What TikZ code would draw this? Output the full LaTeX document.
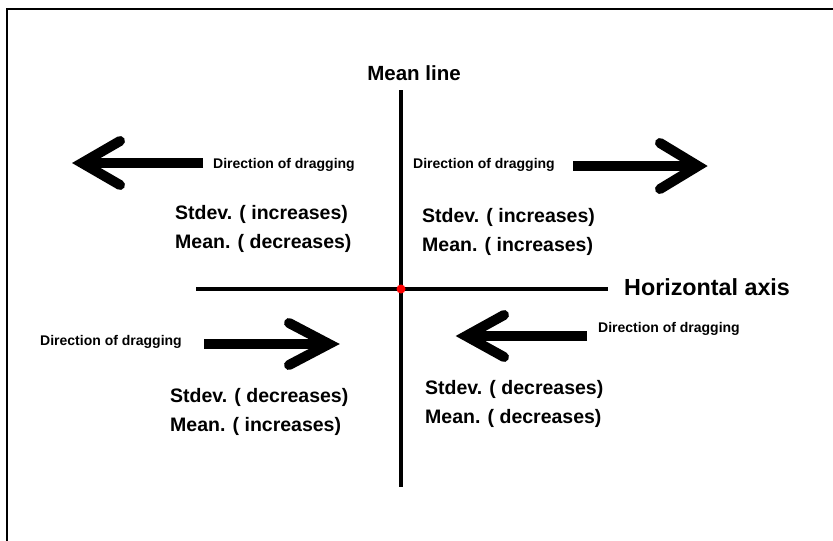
\documentclass[tikz,border=0pt]{standalone}
\usepackage{fontspec}
\setmainfont{Liberation Sans}
\usetikzlibrary{positioning}

\begin{document}
\begin{tikzpicture}[
  x=1pt, y=-1pt,
  frame/.style={line width=2pt, draw=black},
  axis/.style={line width=4pt, draw=black},
  shaft/.style={line width=10pt, draw=black},
  head/.style={line width=10pt, draw=black, line cap=round, line join=miter},
  note/.style={font=\fontsize{14}{16}\selectfont\bfseries, inner sep=0pt, anchor=west},
  stat/.style={font=\fontsize{19.5}{28.5}\selectfont\bfseries, inner sep=0pt,
    anchor=west, align=left},
  title/.style={font=\fontsize{20.5}{24}\selectfont\bfseries, inner sep=0pt}
]
\useasboundingbox (0,0) rectangle (833,541);

% frame
\coordinate (fbl) at (7,541);
\coordinate (ftl) at (7,9);
\coordinate (ftr) at (833,9);
\draw[frame] (fbl) -- (ftl) -- (ftr);

% axes
\coordinate (vtop) at (401,90);
\coordinate (vbot) at (401,487);
\coordinate (hleft) at (196,289);
\coordinate (hright) at (608,289);
\draw[axis] (vtop) -- (vbot);
\draw[axis] (hleft) -- (hright);
\node[circle, fill=red, inner sep=0pt, minimum size=9pt] (origin) at (401,289) {};

\node[title] (meanline) at (414,73) {Mean line};
\node[title, anchor=west, font=\fontsize{23.3}{26}\selectfont\bfseries] (haxis) at (624,287) {Horizontal axis};

% upper left
\coordinate (ulstart) at (203,163);
\coordinate (ultip) at (82,163);
\draw[shaft] (ulstart) -- (ultip);
\draw[head] (120,141) -- (ultip) -- (120,185);
\node[note] (uldrag) at (213,165) {Direction of dragging};
\node[stat] (ulstat) at (175,229) {Stdev. ( increases)\\Mean. ( decreases)};

% upper right
\coordinate (urstart) at (573,166);
\coordinate (urtip) at (698,166);
\draw[shaft] (urstart) -- (urtip);
\draw[head] (660,143) -- (urtip) -- (660,189);
\node[note] (urdrag) at (413,165) {Direction of dragging};
\node[stat] (urstat) at (422,232) {Stdev. ( increases)\\Mean. ( increases)};

% lower left
\coordinate (llstart) at (204,344);
\coordinate (lltip) at (329,344);
\draw[shaft] (llstart) -- (lltip);
\draw[head] (289,323) -- (lltip) -- (289,365);
\node[note] (lldrag) at (40,342) {Direction of dragging};
\node[stat] (llstat) at (170,412) {Stdev. ( decreases)\\Mean. ( increases)};

% lower right
\coordinate (lrstart) at (587,336);
\coordinate (lrtip) at (466,336);
\draw[shaft] (lrstart) -- (lrtip);
\draw[head] (504,315) -- (lrtip) -- (504,357);
\node[note] (lrdrag) at (598,329) {Direction of dragging};
\node[stat] (lrstat) at (425,404) {Stdev. ( decreases)\\Mean. ( decreases)};

\end{tikzpicture}
\end{document}
